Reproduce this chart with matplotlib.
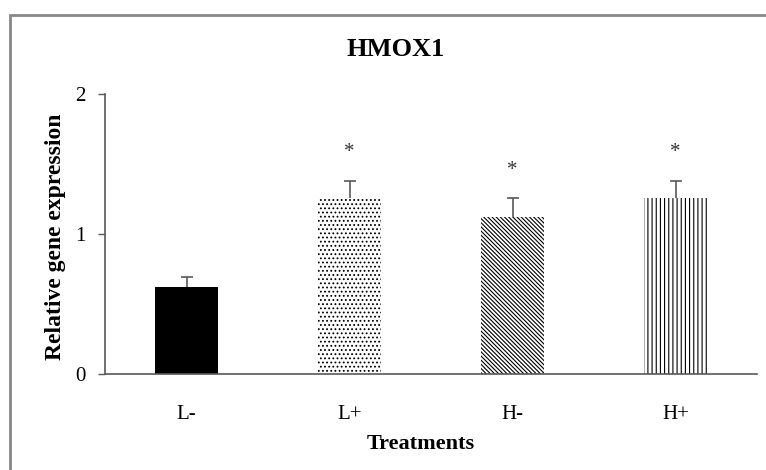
import matplotlib
matplotlib.use("Agg")
import matplotlib.pyplot as plt
from matplotlib.patches import Rectangle
import numpy as np

categories = ["L-", "L+", "H-", "H+"]
values = [0.62, 1.255, 1.12, 1.255]
errors = [0.07, 0.125, 0.135, 0.125]
signif = ["", "*", "*", "*"]
hatches = [None, "....", "\\\\\\\\\\\\\\\\", "||||"]
colors = ["black", "white", "white", "white"]

plt.rcParams["font.family"] = ["Liberation Serif", "DejaVu Serif"]
plt.rcParams["hatch.linewidth"] = 0.8

fig = plt.figure(figsize=(7.66, 4.70), dpi=100)
ax = fig.add_axes([105/766, 1-374/470, (757-105)/766, (374-94)/470])

x = np.arange(len(categories))
for i in range(len(categories)):
    ax.bar(x[i], values[i], width=0.39, color=colors[i], edgecolor="black",
           linewidth=0, hatch=hatches[i], zorder=2)

cont = ax.errorbar(x, values, yerr=[np.zeros(len(values)), errors], fmt="none",
                   ecolor="#595959", elinewidth=1.2, capsize=4.3, capthick=1.2, zorder=3)
cont[1][0].set_visible(False)

for i in range(len(categories)):
    if signif[i]:
        ax.text(x[i], values[i] + errors[i] + 0.2, signif[i], ha="center", va="center",
                fontsize=15, color="#333333")

ax.set_xlim(-0.5, 3.5)
ax.set_ylim(0, 2)
ax.set_yticks([0, 1, 2])
ax.set_xticks(x)
ax.set_xticklabels(categories)
for s in ["top", "right"]:
    ax.spines[s].set_visible(False)
for s in ["left", "bottom"]:
    ax.spines[s].set_color("#595959")
    ax.spines[s].set_linewidth(1.2)
ax.tick_params(axis="y", direction="out", length=5, width=1.0, color="#595959",
               labelsize=15, pad=9)
ax.tick_params(axis="x", length=0, labelsize=15, pad=22)

fig.text(396/766, 1-49/470, "HMOX1", ha="center", va="center", fontsize=19, fontweight="bold")
fig.text(421/766, 1-444/470, "Treatments", ha="center", va="center", fontsize=16, fontweight="bold")
fig.text(55/766, 1-237/470, "Relative gene expression", ha="center", va="center",
         rotation=90, fontsize=17, fontweight="bold")

fig.patches.append(Rectangle((10/766, -0.1), 1.0, 1-15/470+0.1, transform=fig.transFigure,
                             fill=False, edgecolor="#888888", linewidth=2))

fig.savefig("out.png", dpi=100)
